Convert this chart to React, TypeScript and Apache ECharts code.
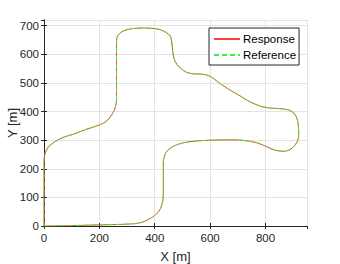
import React, { useEffect, useRef } from "react";
import * as echarts from "echarts";

const pathX = [0, 105, 200, 286, 346, 383, 407, 419, 426, 430, 431, 431, 434, 440, 455, 475, 500, 539, 602, 684, 720, 769, 805, 835, 865, 890, 905, 917, 920, 919, 914, 902, 885, 865, 840, 817, 781, 744, 708, 672, 636, 602, 575, 539, 515, 495, 480, 470, 465, 462, 455, 440, 420, 400, 360, 320, 290, 272, 264, 262, 262, 259, 254, 244, 225, 200, 150, 110, 70, 40, 20, 8, 2, 0, 0];
const pathY = [0, 1.5, 4, 6, 11, 26, 43, 58, 75, 96, 130, 224, 240, 256, 271, 282, 290, 296, 300, 301, 299, 291, 277, 265, 261, 268, 281, 300, 320, 347, 375, 395, 405, 409, 411, 412, 419, 434, 455, 475, 498, 522, 530, 532, 537, 550, 565, 585, 610, 640, 665, 677, 686, 690, 692, 690, 683, 672, 660, 640, 440, 422, 405, 388, 366, 353, 337, 322, 310, 295, 280, 264, 245, 225, 0];

const seriesNames = ["Response", "Reference"];
const xLabel = "X [m]";
const yLabel = "Y [m]";

const FONT = "Liberation Sans, Arial, Helvetica, sans-serif";
const AX = "#262626";
const RED = "#ff3a3a";
const GREEN = "#3df03d";

export default function App() {
  const ref = useRef<HTMLDivElement>(null);
  useEffect(() => {
    if (!ref.current) return;
    const chart = echarts.init(ref.current, null, { renderer: "svg" });
    const pts = pathX.map((x, i) => [x, pathY[i]]);
    const baseAxis = {
      type: "value",
      axisLine: { show: true, lineStyle: { color: AX, width: 1 } },
      axisTick: { show: true, inside: true, length: 3, lineStyle: { color: AX } },
    };
    chart.setOption({
      animation: false,
      backgroundColor: "#ffffff",
      textStyle: { fontFamily: FONT },
      grid: { left: 44, top: 20, width: 263, height: 206, containLabel: false, outerBoundsMode: "none" },
      legend: {
        orient: "vertical",
        left: 209,
        top: 28,
        padding: [4, 3, 3, 4],
        itemWidth: 26,
        itemHeight: 14,
        itemGap: 2,
        borderColor: AX,
        borderWidth: 1,
        borderRadius: 0,
        backgroundColor: "#ffffff",
        itemStyle: { opacity: 0 },
        textStyle: { fontSize: 11.5, color: "#000000", fontFamily: FONT, padding: [0, 0, 0, -2], lineHeight: 14 },
        data: seriesNames,
      },
      xAxis: [
        {
          ...baseAxis,
          min: 0,
          max: 950,
          interval: 200,
          position: "bottom",
          name: xLabel,
          nameLocation: "middle",
          nameGap: 24,
          nameMoveOverlap: false,
          nameTextStyle: { fontSize: 13, color: AX, fontFamily: FONT },
          axisLabel: { fontSize: 11.5, color: AX, margin: 6, showMaxLabel: false, fontFamily: FONT },
          splitLine: { show: true, lineStyle: { color: "#e3e3e3", width: 1 } },
        },
        {
          ...baseAxis,
          min: 0,
          max: 950,
          interval: 200,
          position: "top",
          axisLabel: { show: false },
          splitLine: { show: false },
        },
      ],
      yAxis: [
        {
          ...baseAxis,
          min: 0,
          max: 720,
          interval: 100,
          position: "left",
          name: yLabel,
          nameLocation: "middle",
          nameGap: 25,
          nameMoveOverlap: false,
          nameTextStyle: { fontSize: 13, color: AX, fontFamily: FONT },
          axisLabel: { fontSize: 11.5, color: AX, margin: 5, showMaxLabel: false, fontFamily: FONT },
          splitLine: { show: true, lineStyle: { color: "#e3e3e3", width: 1 } },
        },
        {
          ...baseAxis,
          min: 0,
          max: 720,
          interval: 100,
          position: "right",
          axisLabel: { show: false },
          splitLine: { show: false },
        },
      ],
      series: [
        {
          name: seriesNames[0],
          type: "line",
          data: pts,
          symbol: "none",
          smooth: 0.35,
          lineStyle: { color: RED, width: 1 },
          itemStyle: { color: RED },
        },
        {
          name: seriesNames[1],
          type: "line",
          data: pts,
          symbol: "none",
          smooth: 0.35,
          lineStyle: { color: GREEN, width: 1, type: [5, 3] },
          itemStyle: { color: GREEN },
        },
      ],
    });
    return () => chart.dispose();
  }, []);
  return <div ref={ref} style={{ width: 340, height: 264, position: "absolute", left: 0, top: 0 }} />;
}
